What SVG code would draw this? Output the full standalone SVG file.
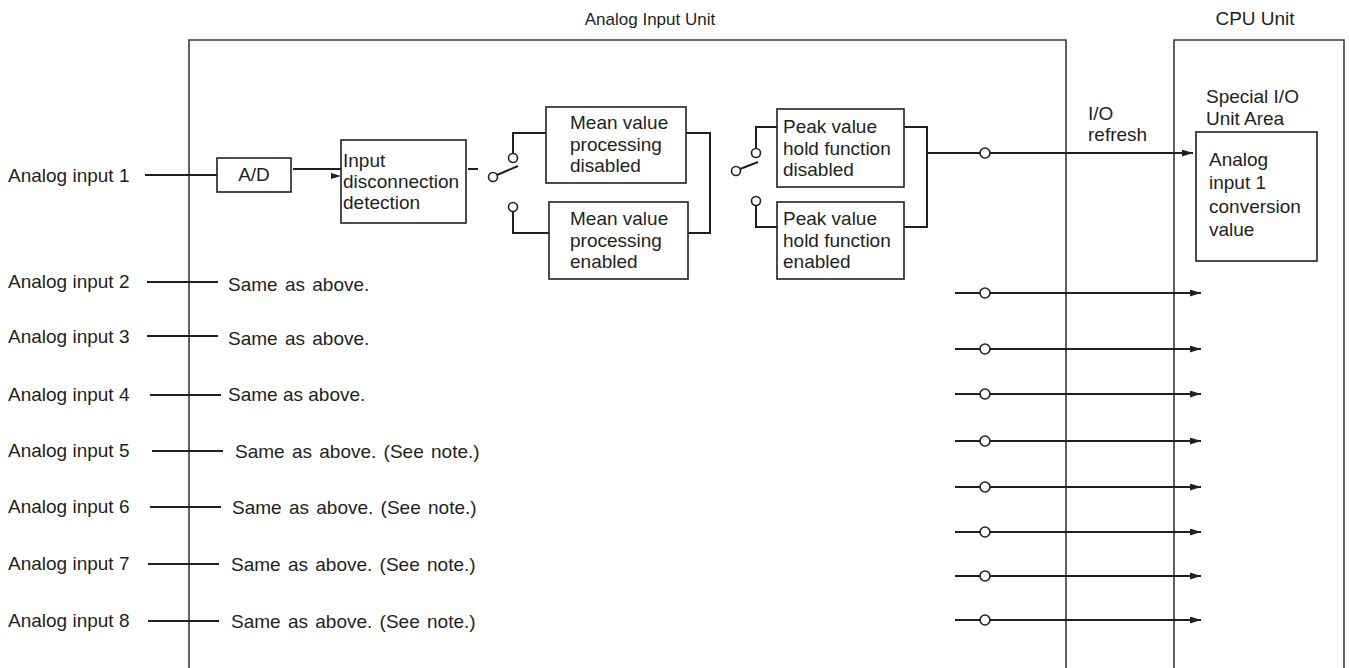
<svg xmlns="http://www.w3.org/2000/svg" width="1349" height="668" viewBox="0 0 1349 668">
<style>
text{font-family:"Liberation Sans",Arial,sans-serif;font-size:19px;fill:#231f20}
.frame{fill:none;stroke:#3a3a3a;stroke-width:1.6}
.box{fill:#fff;stroke:#231f20;stroke-width:1.6}
.w{fill:none;stroke:#231f20;stroke-width:2}
.c{fill:#fff;stroke:#231f20;stroke-width:1.6}
.sa{word-spacing:2px}
</style>
<defs>
<marker id="ah" markerWidth="11" markerHeight="7" refX="11" refY="3.5" orient="auto" markerUnits="userSpaceOnUse">
<path d="M0,0 L11,3.5 L0,7 Z" fill="#231f20"/>
</marker>
</defs>
<rect width="1349" height="668" fill="#fff"/>

<g id="analog-input-unit">
<path class="frame" d="M189,668 V40 H1066 V668"/>
<text x="650" y="25" text-anchor="middle" style="font-size:17px">Analog Input Unit</text>
</g>
<g id="cpu-unit">
<path class="frame" d="M1174,668 V40 H1344 V668"/>
<text x="1255" y="25" text-anchor="middle">CPU Unit</text>
<text x="1206" y="103">Special I/O</text>
<text x="1206" y="125">Unit Area</text>
</g>
<g id="conversion-value">
<rect class="box" x="1196" y="132" width="121" height="129"/>
<text x="1209" y="166">Analog</text>
<text x="1209" y="189">input 1</text>
<text x="1209" y="213">conversion</text>
<text x="1209" y="236">value</text>
</g>
<g id="io-refresh">
<text x="1088" y="120">I/O</text>
<text x="1088" y="141">refresh</text>
</g>

<g id="inputs">
<text x="8" y="182">Analog input 1</text>
<text x="8" y="288">Analog input 2</text>
<text x="8" y="343">Analog input 3</text>
<text x="8" y="401">Analog input 4</text>
<text x="8" y="457">Analog input 5</text>
<text x="8" y="513">Analog input 6</text>
<text x="8" y="570">Analog input 7</text>
<text x="8" y="627">Analog input 8</text>
<text class="sa" x="228" y="291">Same as above.</text>
<text class="sa" x="228" y="345">Same as above.</text>
<text x="228" y="401">Same as above.</text>
<text class="sa" x="235" y="458">Same as above. (See note.)</text>
<text class="sa" x="232" y="514">Same as above. (See note.)</text>
<text class="sa" x="231" y="571">Same as above. (See note.)</text>
<text class="sa" x="231" y="628">Same as above. (See note.)</text>
</g>

<g id="ad">
<rect class="box" x="217" y="158" width="74" height="34"/>
<text x="254" y="181" text-anchor="middle">A/D</text>
</g>
<g id="disconnection">
<rect class="box" x="341" y="140" width="125" height="83"/>
<text x="343" y="167">Input</text>
<text x="343" y="188">disconnection</text>
<text x="343" y="209">detection</text>
</g>
<g id="mean-disabled">
<rect class="box" x="546" y="107" width="140" height="76"/>
<text x="570" y="129">Mean value</text>
<text x="570" y="151">processing</text>
<text x="570" y="172">disabled</text>
</g>
<g id="mean-enabled">
<rect class="box" x="549" y="202" width="139" height="77"/>
<text x="570" y="225">Mean value</text>
<text x="570" y="247">processing</text>
<text x="570" y="268">enabled</text>
</g>
<g id="peak-disabled">
<rect class="box" x="777" y="109" width="127" height="78"/>
<text x="783" y="133">Peak value</text>
<text x="783" y="155">hold function</text>
<text x="783" y="176">disabled</text>
</g>
<g id="peak-enabled">
<rect class="box" x="777" y="202" width="127" height="77"/>
<text x="783" y="225">Peak value</text>
<text x="783" y="247">hold function</text>
<text x="783" y="268">enabled</text>
</g>

<g id="connectors">
<path class="w" d="M145,175 H217"/>
<path class="w" d="M293,169 H341" stroke-width="1.6"/>
<path d="M331,173 L341,176 L331,179 Z" fill="#231f20"/>
<path class="w" d="M468,169 H478" stroke-width="1.6"/>
<!-- switch 1 -->
<circle class="c" cx="493" cy="177" r="4.5"/>
<path class="w" d="M497,175 L518,166" stroke-width="1.6"/>
<circle class="c" cx="513" cy="158" r="4.5"/>
<circle class="c" cx="513" cy="207" r="4.5"/>
<path class="w" d="M513,153.5 V133 H546"/>
<path class="w" d="M513,211.5 V233 H549"/>
<path class="w" d="M686,133 H710 V233 H688"/>
<!-- switch 2 -->
<circle class="c" cx="736" cy="171" r="4.5"/>
<path class="w" d="M740,169 L758,162" stroke-width="1.6"/>
<circle class="c" cx="756" cy="153" r="4.5"/>
<circle class="c" cx="756" cy="201" r="4.5"/>
<path class="w" d="M756,148.5 V127 H777"/>
<path class="w" d="M756,205.5 V227 H777"/>
<path class="w" d="M904,127 H927 V227 H904"/>
<!-- output row 1 -->
<path class="w" d="M927,153 H1193" marker-end="url(#ah)"/>
<circle class="c" cx="985" cy="153" r="5"/>
<!-- rows 2-8 left -->
<path class="w" d="M147,282 H218 M147,336 H218 M150,395 H221 M152,451 H223 M150,507 H221 M148,564 H219 M148,621 H219"/>
<!-- rows 2-8 right -->
<path class="w" d="M955,293 H1201" marker-end="url(#ah)"/>
<path class="w" d="M955,349 H1201" marker-end="url(#ah)"/>
<path class="w" d="M955,394 H1201" marker-end="url(#ah)"/>
<path class="w" d="M955,441 H1201" marker-end="url(#ah)"/>
<path class="w" d="M955,487 H1201" marker-end="url(#ah)"/>
<path class="w" d="M955,532 H1201" marker-end="url(#ah)"/>
<path class="w" d="M955,576 H1201" marker-end="url(#ah)"/>
<path class="w" d="M955,620 H1201" marker-end="url(#ah)"/>
<circle class="c" cx="985" cy="293" r="5"/>
<circle class="c" cx="985" cy="349" r="5"/>
<circle class="c" cx="985" cy="394" r="5"/>
<circle class="c" cx="985" cy="441" r="5"/>
<circle class="c" cx="985" cy="487" r="5"/>
<circle class="c" cx="985" cy="532" r="5"/>
<circle class="c" cx="985" cy="576" r="5"/>
<circle class="c" cx="985" cy="620" r="5"/>
</g>
</svg>
